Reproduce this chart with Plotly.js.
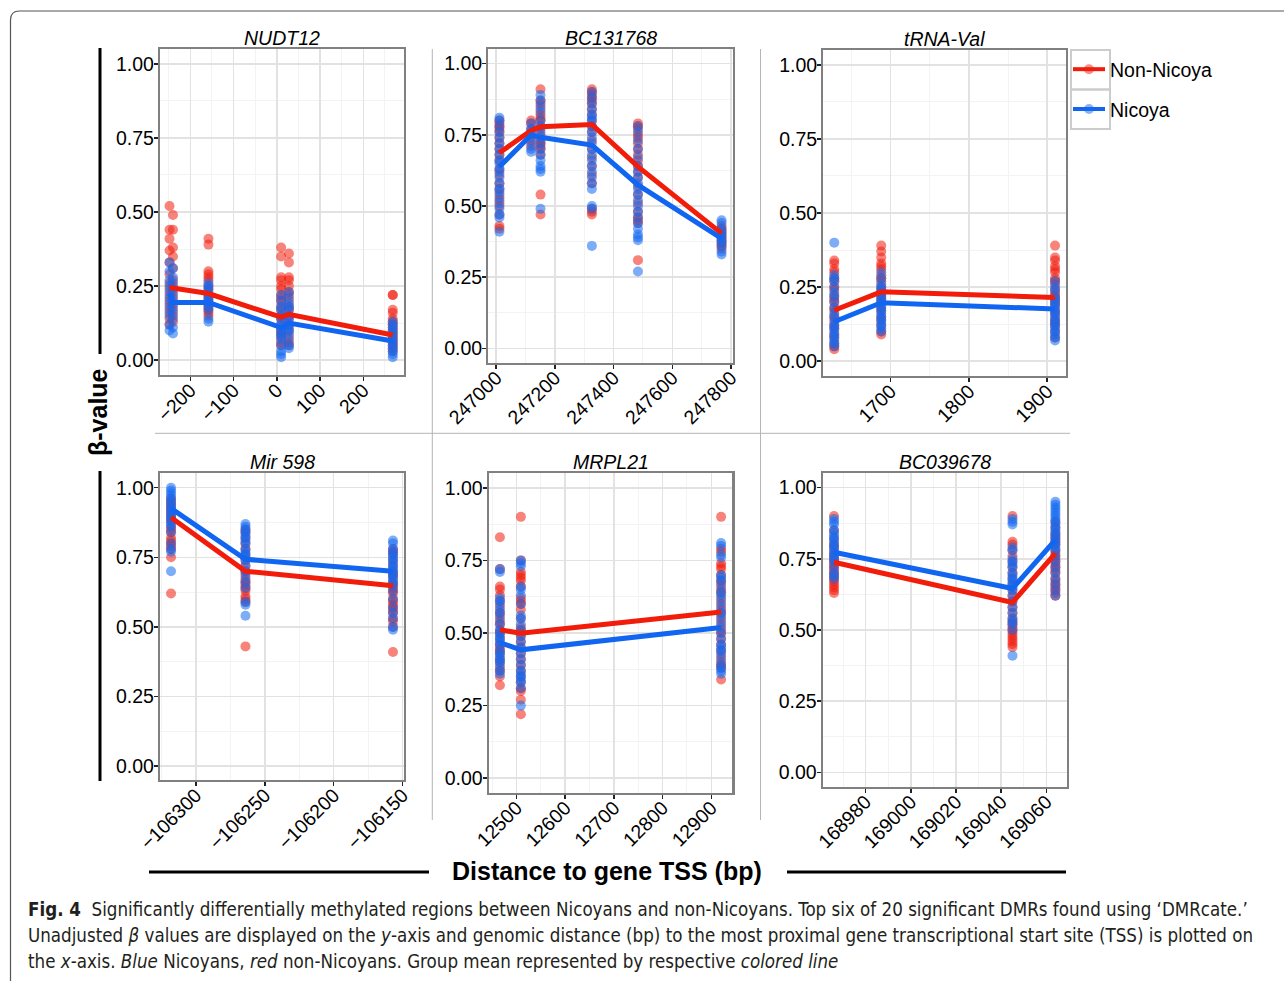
<!DOCTYPE html>
<html>
<head>
<meta charset="utf-8">
<script src="https://cdn.plot.ly/plotly-3.0.1.min.js"></script>
<style>html,body{margin:0;padding:0;background:#fff;}#chart{width:1284px;height:981px;}</style>
</head>
<body>
<div id="chart"></div>
<script>
// ---------------- DATA ----------------
const groupNames = ['Non-Nicoya', 'Nicoya'];
const panelTitles = ['NUDT12', 'BC131768', 'tRNA-Val', 'Mir 598', 'MRPL21', 'BC039678'];

// NUDT12
const nudt12Pos = [-248, -240, -158, 10, 28, 268];
const nudt12NonNicoya = [
  [0.52, 0.44, 0.41, 0.37, 0.33, 0.29, 0.26, 0.24, 0.22, 0.20, 0.18, 0.16, 0.14, 0.12],
  [0.49, 0.44, 0.38, 0.35, 0.31, 0.27, 0.25, 0.23, 0.21, 0.19, 0.17, 0.15, 0.13],
  [0.41, 0.39, 0.30, 0.29, 0.28, 0.27, 0.25, 0.24, 0.22, 0.21, 0.20, 0.19, 0.18, 0.17, 0.16, 0.15],
  [0.38, 0.35, 0.28, 0.27, 0.25, 0.24, 0.22, 0.21, 0.20, 0.18, 0.17, 0.15, 0.14, 0.12, 0.10, 0.09, 0.08, 0.06, 0.05],
  [0.36, 0.33, 0.28, 0.27, 0.25, 0.23, 0.22, 0.20, 0.18, 0.17, 0.15, 0.14, 0.12, 0.10, 0.08, 0.06, 0.05],
  [0.22, 0.22, 0.17, 0.16, 0.14, 0.13, 0.12, 0.11, 0.10, 0.09, 0.08, 0.07, 0.06, 0.05, 0.04, 0.03]
];
const nudt12Nicoya = [
  [0.33, 0.30, 0.27, 0.25, 0.23, 0.21, 0.19, 0.17, 0.15, 0.12, 0.10],
  [0.31, 0.28, 0.26, 0.24, 0.22, 0.20, 0.18, 0.16, 0.14, 0.11, 0.09],
  [0.26, 0.25, 0.24, 0.23, 0.22, 0.21, 0.20, 0.19, 0.18, 0.17, 0.14, 0.13],
  [0.22, 0.20, 0.18, 0.17, 0.15, 0.14, 0.12, 0.11, 0.10, 0.09, 0.08, 0.07, 0.05, 0.03, 0.02, 0.01],
  [0.23, 0.21, 0.19, 0.18, 0.17, 0.15, 0.14, 0.12, 0.11, 0.10, 0.09, 0.07, 0.05, 0.04],
  [0.13, 0.12, 0.11, 0.10, 0.09, 0.08, 0.07, 0.06, 0.05, 0.04, 0.03, 0.02, 0.01]
];
const nudt12NonNicoyaMean = [0.245, 0.243, 0.225, 0.145, 0.155, 0.085];
const nudt12NicoyaMean = [0.225, 0.195, 0.195, 0.110, 0.125, 0.065];

// BC131768
const bc131768Pos = [247011, 247119, 247151, 247326, 247483, 247768];
const bc131768NonNicoya = [
  [0.80, 0.79, 0.78, 0.77, 0.76, 0.74, 0.72, 0.70, 0.68, 0.66, 0.63, 0.61, 0.58, 0.56, 0.54, 0.52, 0.50, 0.47, 0.43, 0.42],
  [0.80, 0.79, 0.77, 0.75, 0.73, 0.71],
  [0.91, 0.87, 0.86, 0.84, 0.82, 0.81, 0.80, 0.78, 0.77, 0.75, 0.73, 0.72, 0.71, 0.70, 0.68, 0.54, 0.47],
  [0.91, 0.90, 0.89, 0.88, 0.87, 0.86, 0.84, 0.82, 0.80, 0.78, 0.76, 0.73, 0.70, 0.67, 0.64, 0.61, 0.58, 0.49, 0.48, 0.47],
  [0.79, 0.78, 0.77, 0.75, 0.74, 0.72, 0.70, 0.68, 0.66, 0.64, 0.62, 0.60, 0.57, 0.54, 0.51, 0.48, 0.46, 0.45, 0.44, 0.31],
  [0.43, 0.42, 0.41, 0.40, 0.39, 0.38, 0.37, 0.36, 0.35]
];
const bc131768Nicoya = [
  [0.81, 0.80, 0.78, 0.76, 0.74, 0.72, 0.70, 0.68, 0.66, 0.65, 0.63, 0.62, 0.60, 0.58, 0.56, 0.55, 0.53, 0.51, 0.49, 0.47, 0.46, 0.41],
  [0.79, 0.77, 0.76, 0.74, 0.72, 0.70, 0.69],
  [0.89, 0.87, 0.85, 0.83, 0.80, 0.78, 0.76, 0.74, 0.72, 0.70, 0.68, 0.66, 0.64, 0.63, 0.62, 0.49],
  [0.90, 0.88, 0.86, 0.84, 0.82, 0.81, 0.80, 0.78, 0.76, 0.74, 0.72, 0.70, 0.68, 0.66, 0.64, 0.62, 0.60, 0.58, 0.56, 0.50, 0.49, 0.36],
  [0.78, 0.76, 0.73, 0.70, 0.67, 0.64, 0.62, 0.60, 0.58, 0.56, 0.54, 0.52, 0.50, 0.48, 0.46, 0.44, 0.42, 0.40, 0.39, 0.38, 0.27],
  [0.45, 0.44, 0.42, 0.41, 0.40, 0.39, 0.38, 0.37, 0.36, 0.34, 0.33]
];
const bc131768NonNicoyaMean = [0.687, 0.765, 0.778, 0.786, 0.638, 0.404];
const bc131768NicoyaMean = [0.638, 0.749, 0.741, 0.714, 0.574, 0.386];

// tRNA-Val
const trnaValPos = [1628, 1688, 1910];
const trnaValNonNicoya = [
  [0.34, 0.33, 0.31, 0.30, 0.28, 0.27, 0.25, 0.24, 0.22, 0.21, 0.20, 0.18, 0.17, 0.15, 0.14, 0.12, 0.11, 0.09, 0.08, 0.06, 0.05, 0.04],
  [0.39, 0.37, 0.35, 0.33, 0.32, 0.31, 0.29, 0.28, 0.27, 0.25, 0.24, 0.23, 0.22, 0.21, 0.20, 0.18, 0.17, 0.15, 0.14, 0.12, 0.10, 0.09],
  [0.39, 0.35, 0.34, 0.32, 0.31, 0.30, 0.28, 0.27, 0.26, 0.24, 0.23, 0.22, 0.21, 0.20, 0.19, 0.17, 0.16, 0.14, 0.13, 0.12, 0.10, 0.08]
];
const trnaValNicoya = [
  [0.40, 0.29, 0.28, 0.27, 0.25, 0.23, 0.22, 0.20, 0.18, 0.16, 0.15, 0.13, 0.12, 0.11, 0.10, 0.09, 0.08, 0.07, 0.06, 0.05],
  [0.30, 0.28, 0.26, 0.25, 0.24, 0.23, 0.22, 0.21, 0.20, 0.19, 0.18, 0.17, 0.16, 0.15, 0.14, 0.13, 0.12, 0.11, 0.10],
  [0.27, 0.25, 0.24, 0.22, 0.21, 0.20, 0.19, 0.18, 0.17, 0.16, 0.15, 0.14, 0.13, 0.12, 0.11, 0.10, 0.09, 0.08, 0.07]
];
const trnaValNonNicoyaMean = [0.172, 0.234, 0.215];
const trnaValNicoyaMean = [0.133, 0.197, 0.176];

// Mir 598
const mir598Pos = [-106318, -106264, -106157];
const mir598NonNicoya = [
  [0.96, 0.95, 0.94, 0.93, 0.92, 0.91, 0.90, 0.89, 0.88, 0.86, 0.85, 0.84, 0.82, 0.81, 0.80, 0.79, 0.78, 0.75, 0.62],
  [0.85, 0.84, 0.82, 0.80, 0.78, 0.76, 0.74, 0.72, 0.70, 0.69, 0.67, 0.66, 0.65, 0.64, 0.63, 0.61, 0.60, 0.59, 0.43],
  [0.78, 0.77, 0.76, 0.74, 0.72, 0.70, 0.69, 0.68, 0.66, 0.65, 0.64, 0.63, 0.62, 0.60, 0.59, 0.58, 0.57, 0.56, 0.55, 0.53, 0.52, 0.50, 0.41]
];
const mir598Nicoya = [
  [1.00, 0.99, 0.98, 0.97, 0.96, 0.95, 0.94, 0.93, 0.92, 0.91, 0.90, 0.89, 0.88, 0.87, 0.86, 0.84, 0.80, 0.78, 0.77, 0.70],
  [0.87, 0.86, 0.85, 0.84, 0.83, 0.82, 0.81, 0.80, 0.78, 0.77, 0.76, 0.75, 0.74, 0.72, 0.70, 0.68, 0.66, 0.64, 0.59, 0.58, 0.54],
  [0.81, 0.80, 0.78, 0.77, 0.76, 0.75, 0.74, 0.73, 0.72, 0.71, 0.70, 0.69, 0.68, 0.67, 0.66, 0.65, 0.63, 0.60, 0.57, 0.55, 0.53, 0.50, 0.49]
];
const mir598NonNicoyaMean = [0.893, 0.700, 0.648];
const mir598NicoyaMean = [0.926, 0.743, 0.700];

// MRPL21
const mrpl21Pos = [12466, 12509, 12920];
const mrpl21NonNicoya = [
  [0.83, 0.72, 0.66, 0.65, 0.63, 0.61, 0.59, 0.57, 0.56, 0.54, 0.53, 0.51, 0.50, 0.48, 0.46, 0.45, 0.44, 0.43, 0.41, 0.40, 0.38, 0.37, 0.35, 0.32],
  [0.90, 0.75, 0.71, 0.70, 0.69, 0.68, 0.66, 0.62, 0.61, 0.60, 0.58, 0.55, 0.52, 0.51, 0.50, 0.49, 0.47, 0.45, 0.43, 0.41, 0.39, 0.37, 0.35, 0.33, 0.31, 0.30, 0.27, 0.22],
  [0.90, 0.79, 0.78, 0.74, 0.73, 0.72, 0.70, 0.68, 0.67, 0.65, 0.64, 0.62, 0.60, 0.58, 0.57, 0.55, 0.53, 0.51, 0.50, 0.48, 0.46, 0.44, 0.42, 0.40, 0.39, 0.38, 0.34]
];
const mrpl21Nicoya = [
  [0.72, 0.71, 0.62, 0.61, 0.60, 0.58, 0.57, 0.55, 0.53, 0.51, 0.50, 0.49, 0.48, 0.47, 0.46, 0.44, 0.43, 0.42, 0.41, 0.40, 0.39, 0.37, 0.36],
  [0.75, 0.74, 0.73, 0.66, 0.65, 0.63, 0.60, 0.56, 0.55, 0.53, 0.51, 0.49, 0.47, 0.45, 0.43, 0.41, 0.39, 0.37, 0.36, 0.35, 0.34, 0.33, 0.31, 0.25],
  [0.81, 0.80, 0.77, 0.76, 0.70, 0.69, 0.68, 0.66, 0.64, 0.63, 0.61, 0.59, 0.57, 0.56, 0.54, 0.52, 0.50, 0.48, 0.46, 0.45, 0.44, 0.43, 0.41, 0.39, 0.38, 0.37, 0.36]
];
const mrpl21NonNicoyaMean = [0.511, 0.499, 0.572];
const mrpl21NicoyaMean = [0.467, 0.442, 0.519];

// BC039678
const bc039678Pos = [168966, 169045, 169064];
const bc039678NonNicoya = [
  [0.90, 0.85, 0.82, 0.80, 0.79, 0.77, 0.76, 0.75, 0.74, 0.73, 0.72, 0.71, 0.70, 0.69, 0.68, 0.67, 0.66, 0.65, 0.64, 0.63],
  [0.90, 0.81, 0.80, 0.78, 0.76, 0.74, 0.72, 0.70, 0.68, 0.66, 0.64, 0.62, 0.60, 0.58, 0.56, 0.54, 0.53, 0.52, 0.51, 0.50, 0.49, 0.48, 0.47, 0.46, 0.45, 0.44],
  [0.88, 0.86, 0.84, 0.83, 0.82, 0.81, 0.80, 0.78, 0.77, 0.76, 0.75, 0.74, 0.73, 0.72, 0.71, 0.70, 0.68, 0.67, 0.66, 0.65, 0.64, 0.63, 0.62]
];
const bc039678Nicoya = [
  [0.89, 0.88, 0.87, 0.85, 0.84, 0.83, 0.82, 0.81, 0.80, 0.79, 0.78, 0.77, 0.76, 0.75, 0.74, 0.72, 0.70, 0.69, 0.68],
  [0.89, 0.88, 0.87, 0.79, 0.78, 0.75, 0.74, 0.73, 0.72, 0.70, 0.69, 0.68, 0.67, 0.66, 0.65, 0.64, 0.62, 0.60, 0.58, 0.56, 0.54, 0.53, 0.52, 0.50, 0.41],
  [0.95, 0.94, 0.93, 0.92, 0.91, 0.90, 0.89, 0.88, 0.87, 0.86, 0.85, 0.84, 0.83, 0.82, 0.81, 0.80, 0.79, 0.78, 0.76, 0.74, 0.72, 0.70, 0.68, 0.66, 0.64, 0.62]
];
const bc039678NonNicoyaMean = [0.738, 0.597, 0.769];
const bc039678NicoyaMean = [0.773, 0.646, 0.816];

const yTickVals = [0, 0.25, 0.5, 0.75, 1];
const yTickText = ['0.00', '0.25', '0.50', '0.75', '1.00'];

// ---------------- ASSEMBLY ----------------
const panels = [
  {pos: nudt12Pos, nn: nudt12NonNicoya, n: nudt12Nicoya, nnM: nudt12NonNicoyaMean, nM: nudt12NicoyaMean},
  {pos: bc131768Pos, nn: bc131768NonNicoya, n: bc131768Nicoya, nnM: bc131768NonNicoyaMean, nM: bc131768NicoyaMean},
  {pos: trnaValPos, nn: trnaValNonNicoya, n: trnaValNicoya, nnM: trnaValNonNicoyaMean, nM: trnaValNicoyaMean},
  {pos: mir598Pos, nn: mir598NonNicoya, n: mir598Nicoya, nnM: mir598NonNicoyaMean, nM: mir598NicoyaMean},
  {pos: mrpl21Pos, nn: mrpl21NonNicoya, n: mrpl21Nicoya, nnM: mrpl21NonNicoyaMean, nM: mrpl21NicoyaMean},
  {pos: bc039678Pos, nn: bc039678NonNicoya, n: bc039678Nicoya, nnM: bc039678NonNicoyaMean, nM: bc039678NicoyaMean}
];

// styling / layout (pixels)
const W = 1284, H = 981;
const RED = 'rgb(240,30,15)', BLUE = 'rgb(20,105,240)';
const LINE_RED = 'rgb(242,28,10)', LINE_BLUE = 'rgb(16,102,240)';
const FONT = 'Liberation Sans, Arial, Helvetica, sans-serif';
const boxes = [
  [160, 404, 49, 375], [488.3, 732.7, 49.3, 362.7], [823.3, 1066, 50, 376],
  [160, 404, 472.7, 780], [488.7, 732.3, 473.3, 792.7], [822.7, 1066.7, 473.3, 786.7]
];
const xRanges = [[-270, 294], [246973, 247806], [1614, 1924], [-106326, -106149], [12443, 12943], [168961, 169069]];
const xDticks = [100, 200, 100, 50, 100, 20];
const yRanges = [[-0.05, 1.05], [-0.05, 1.05], [-0.05, 1.05], [-0.05, 1.054], [-0.05, 1.05], [-0.05, 1.05]];

const px = v => v / W;
const py = v => 1 - v / H;

function flatten(pos, lists) {
  const xs = [], ys = [];
  pos.forEach((p, i) => lists[i].forEach(v => { xs.push(p); ys.push(v); }));
  return {xs, ys};
}

const traces = [];
const tickFont = {family: FONT, size: 19.5, color: '#000'};
const layout = {
  width: W, height: H,
  margin: {l: 0, r: 0, t: 0, b: 0},
  paper_bgcolor: '#fff', plot_bgcolor: '#fff',
  showlegend: true,
  legend: {
    x: px(1068), y: py(50), xanchor: 'left', yanchor: 'top',
    font: {family: FONT, size: 19.5, color: '#000'},
    bgcolor: 'rgba(0,0,0,0)', borderwidth: 0,
    tracegroupgap: 11.5, itemwidth: 32, traceorder: 'grouped'
  },
  annotations: [], shapes: []
};

panels.forEach((pn, i) => {
  const s = i === 0 ? '' : String(i + 1);
  const xa = 'x' + s, ya = 'y' + s;
  const redPts = flatten(pn.pos, pn.nn);
  const bluePts = flatten(pn.pos, pn.n);
  traces.push({
    type: 'scatter', mode: 'markers', x: redPts.xs, y: redPts.ys, xaxis: xa, yaxis: ya,
    marker: {size: 10, color: RED, opacity: 0.55}, showlegend: false, hoverinfo: 'skip', cliponaxis: false
  });
  traces.push({
    type: 'scatter', mode: 'markers', x: bluePts.xs, y: bluePts.ys, xaxis: xa, yaxis: ya,
    marker: {size: 10, color: BLUE, opacity: 0.55}, showlegend: false, hoverinfo: 'skip', cliponaxis: false
  });
  traces.push({
    type: 'scatter', mode: 'lines', x: pn.pos, y: pn.nnM, xaxis: xa, yaxis: ya,
    line: {color: LINE_RED, width: 5}, showlegend: false, hoverinfo: 'skip'
  });
  traces.push({
    type: 'scatter', mode: 'lines', x: pn.pos, y: pn.nM, xaxis: xa, yaxis: ya,
    line: {color: LINE_BLUE, width: 5}, showlegend: false, hoverinfo: 'skip'
  });

  const b = boxes[i];
  const axCommon = {
    showline: true, mirror: true, linecolor: '#808080', linewidth: 2.2,
    ticks: 'outside', ticklen: 4, tickwidth: 1.5, tickcolor: '#222',
    showgrid: true, gridcolor: '#e2e2e2', gridwidth: 1.5, zeroline: false,
    tickfont: tickFont, fixedrange: true
  };
  layout['xaxis' + s] = Object.assign({}, axCommon, {
    domain: [px(b[0]), px(b[1])], anchor: ya, range: xRanges[i],
    tick0: 0, dtick: xDticks[i], tickformat: 'd', tickangle: -45, ticklabelstandoff: -10,
    minor: {showgrid: true, dtick: xDticks[i] / 2, gridcolor: '#f3f3f3', gridwidth: 1, ticks: ''}
  });
  layout['yaxis' + s] = Object.assign({}, axCommon, {
    domain: [py(b[3]), py(b[2])], anchor: xa, range: yRanges[i], ticklabelstandoff: -4,
    tickmode: 'array', tickvals: yTickVals, ticktext: yTickText,
    minor: {showgrid: true, tickvals: [0.125, 0.375, 0.625, 0.875], gridcolor: '#f3f3f3', gridwidth: 1, ticks: ''}
  });
  layout.annotations.push({
    xref: xa + ' domain', yref: ya + ' domain', x: 0.5, y: 1, yanchor: 'bottom', xanchor: 'center',
    showarrow: false, yshift: -2, text: '<i>' + panelTitles[i] + '</i>',
    font: {family: FONT, size: 19.5, color: '#000'}
  });
});

// legend entries
groupNames.forEach((g, k) => {
  traces.push({
    type: 'scatter', mode: 'lines+markers', x: [null], y: [null], xaxis: 'x3', yaxis: 'y3',
    name: g, legendgroup: g,
    line: {color: k === 0 ? LINE_RED : LINE_BLUE, width: 4},
    marker: {size: 10, color: k === 0 ? RED : BLUE, opacity: 0.5},
    showlegend: true, hoverinfo: 'skip'
  });
});

// legend key boxes
[[50, 89.5], [89.5, 129]].forEach(r => {
  layout.shapes.push({type: 'rect', xref: 'paper', yref: 'paper', x0: px(1071), x1: px(1110), y0: py(r[1]), y1: py(r[0]),
    line: {color: '#cccccc', width: 2}, fillcolor: 'rgba(0,0,0,0)', layer: 'below'});
});

// separators between panels
const sep = {color: '#b5b5b5', width: 1};
layout.shapes.push({type: 'line', xref: 'paper', yref: 'paper', x0: px(155), x1: px(1070), y0: py(433.3), y1: py(433.3), line: sep});
layout.shapes.push({type: 'line', xref: 'paper', yref: 'paper', x0: px(432.3), x1: px(432.3), y0: py(49), y1: py(820), line: sep});
layout.shapes.push({type: 'line', xref: 'paper', yref: 'paper', x0: px(760.5), x1: px(760.5), y0: py(49), y1: py(820), line: sep});

// axis title bars
const bar = {color: '#000', width: 3};
layout.shapes.push({type: 'line', xref: 'paper', yref: 'paper', x0: px(100), x1: px(100), y0: py(48), y1: py(354), line: bar});
layout.shapes.push({type: 'line', xref: 'paper', yref: 'paper', x0: px(100), x1: px(100), y0: py(471), y1: py(781), line: bar});
layout.shapes.push({type: 'line', xref: 'paper', yref: 'paper', x0: px(149), x1: px(429), y0: py(872), y1: py(872), line: bar});
layout.shapes.push({type: 'line', xref: 'paper', yref: 'paper', x0: px(787), x1: px(1066), y0: py(872), y1: py(872), line: bar});

// outer frame with rounded corner
layout.shapes.push({type: 'path', xref: 'paper', yref: 'paper',
  path: `M ${px(10.5)},0 L ${px(10.5)},${py(20)} Q ${px(10.5)},${py(11)} ${px(19.5)},${py(11)} L 1,${py(11)}`,
  line: {color: '#555', width: 1.2}});

// axis titles
layout.annotations.push({xref: 'paper', yref: 'paper', x: px(98), y: py(412), xanchor: 'center', yanchor: 'middle',
  textangle: -90, showarrow: false, text: '<b>β-value</b>',
  font: {family: FONT, size: 25, color: '#000'}});
layout.annotations.push({xref: 'paper', yref: 'paper', x: px(607), y: py(871), xanchor: 'center', yanchor: 'middle',
  showarrow: false, text: '<b>Distance to gene TSS (bp)</b>',
  font: {family: FONT, size: 25, color: '#000'}});

// caption
const captionLines = [
  '<b>Fig. 4</b>\u00a0\u00a0Significantly differentially methylated regions between Nicoyans and non-Nicoyans. Top six of 20 significant DMRs found using \u2018DMRcate.\u2019',
  'Unadjusted <i>\u03b2</i> values are displayed on the <i>y</i>-axis and genomic distance (bp) to the most proximal gene transcriptional start site (TSS) is plotted on',
  'the <i>x</i>-axis. <i>Blue</i> Nicoyans, <i>red</i> non-Nicoyans. Group mean represented by respective <i>colored line</i>'
];
const captionY = [909, 935, 961];
captionLines.forEach((t, k) => {
  layout.annotations.push({xref: 'paper', yref: 'paper', x: px(26), y: py(captionY[k]), xanchor: 'left', yanchor: 'middle',
    showarrow: false, text: t, align: 'left',
    font: {family: 'DejaVu Sans Condensed, sans-serif', size: 18.6, color: '#231f20'}});
});

Plotly.newPlot('chart', traces, layout, {staticPlot: true, displayModeBar: false});
</script>
</body>
</html>
